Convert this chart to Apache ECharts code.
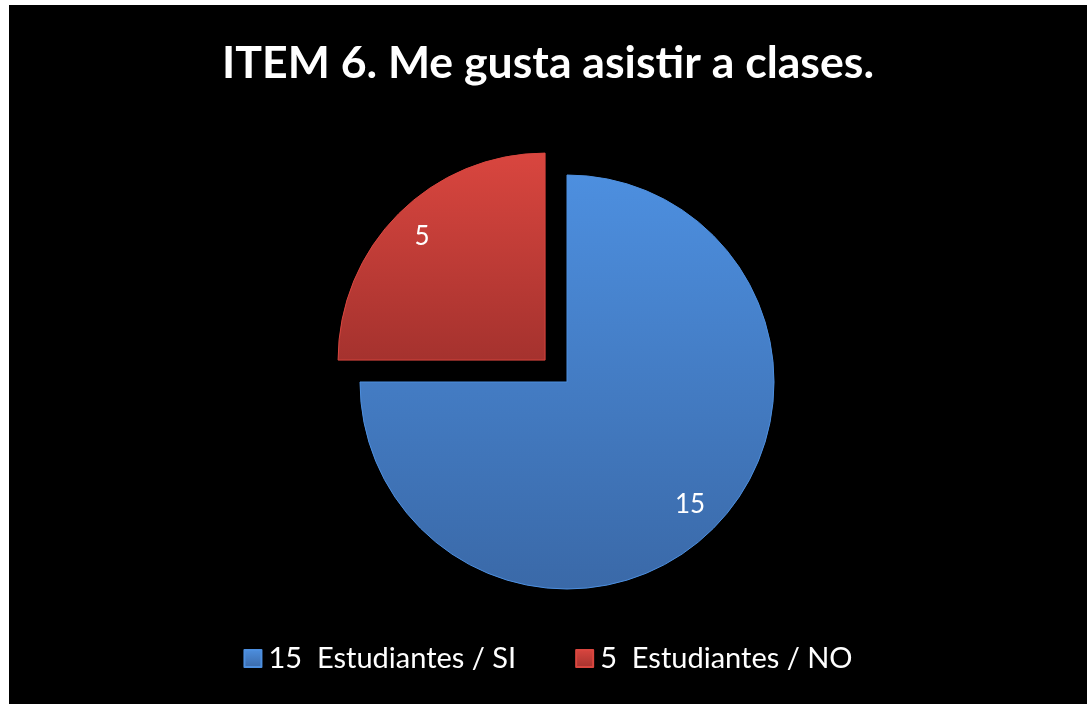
<!DOCTYPE html>
<html>
<head>
<meta charset="utf-8">
<script src="https://cdn.jsdelivr.net/npm/echarts@6/dist/echarts.min.js"></script>
<style>
  html, body { margin: 0; padding: 0; background: #fff; }
  #chart { position: absolute; left: 9px; top: 5px; width: 1078px; height: 699px; }
</style>
</head>
<body>
<div id="chart"></div>
<script>
// datos
const categorias = ['15  Estudiantes / SI', '5  Estudiantes / NO'];
const valores = [15, 5];
const colores = [
  ['#4d8fdf', '#3a69a8'],
  ['#d9463f', '#a5322e']
];

let myChart = echarts.init(document.getElementById('chart'));

function grad(c) {
  return new echarts.graphic.LinearGradient(0, 0, 0, 1, [
    { offset: 0, color: c[0] },
    { offset: 1, color: c[1] }
  ]);
}

let datos = categorias.map((n, i) => ({
  name: n,
  value: valores[i],
  selected: i === 1,
  itemStyle: { color: grad(colores[i]), borderColor: colores[i][0], borderWidth: 1 }
}));

let etiquetas = categorias.map((n, i) => ({
  name: n,
  value: valores[i],
  selected: i === 1
}));

myChart.setOption({
  backgroundColor: '#000',
  title: {
    text: 'ITEM 6. Me gusta asistir a clases.',
    left: 'center',
    top: 31,
    textStyle: {
      color: '#fff',
      fontSize: 44.6,
      fontWeight: 'bold',
      fontFamily: 'Lato'
    }
  },
  legend: {
    bottom: 26,
    left: 'center',
    itemWidth: 17,
    itemHeight: 17,
    itemGap: 59,
    icon: 'rect',
    selectedMode: false,
    data: categorias,
    textStyle: { color: '#fff', fontSize: 29, fontFamily: 'Lato', padding: [0, 0, 0, 2] }
  },
  color: [colores[0][0], colores[1][0]],
  series: [
    {
      type: 'pie',
      center: [558, 377],
      radius: [0, 207],
      startAngle: 90,
      clockwise: true,
      selectedMode: 'single',
      selectedOffset: 31,
      animation: false,
      silent: true,
      label: { show: false },
      labelLine: { show: false },
      data: datos
    },
    {
      // serie transparente solo para colocar las cifras
      type: 'pie',
      center: [558, 377],
      radius: [135, 207],
      startAngle: 90,
      clockwise: true,
      selectedMode: 'single',
      selectedOffset: 31,
      animation: false,
      silent: true,
      legendHoverLink: false,
      itemStyle: { color: 'rgba(0,0,0,0)' },
      label: {
        show: true,
        position: 'inside',
        formatter: '{c}',
        color: '#fff',
        fontSize: 26,
        fontFamily: 'Lato'
      },
      labelLine: { show: false },
      data: etiquetas
    }
  ]
});
</script>
</body>
</html>
